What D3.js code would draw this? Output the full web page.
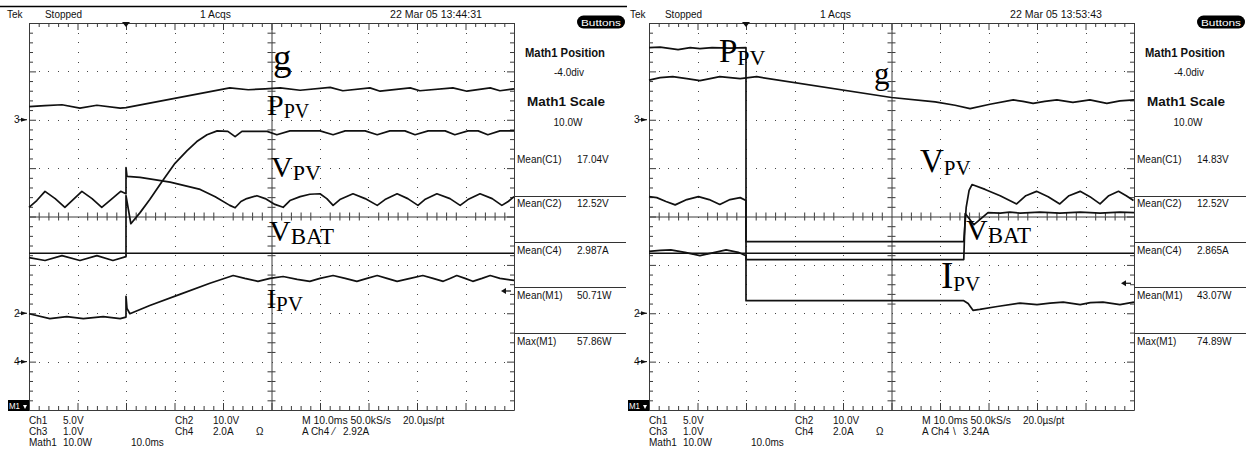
<!DOCTYPE html>
<html><head><meta charset="utf-8">
<script src="https://cdn.jsdelivr.net/npm/d3@7"></script>
<style>body{margin:0;background:#fff}svg{display:block}</style>
</head><body>
<svg id="c" width="1252" height="450"></svg>
<script>
// ---------------- DATA ----------------
// time in ms from left edge of screen (10 ms/div), amplitude in screen divisions (0 = centre)
const timeMajor = [0,10,20,30,40,50,60,70,80,90,100];
const divMajor = [-4,-3,-2,-1,0,1,2,3,4];
const channelMarkers = ["3","2","4"];
const channelMarkerDiv = [2,-2,-3];
const statusTexts = ["Tek","Stopped","1 Acqs"];
const dates = ["22 Mar 05 13:44:31","22 Mar 05 13:53:43"];
const mathInfo = ["Math1 Position","-4.0div","Math1 Scale","10.0W"];
const readoutNames = ["Mean(C1)","Mean(C2)","Mean(C4)","Mean(M1)","Max(M1)"];
const readoutsLeft = ["17.04V","12.52V","2.987A","50.71W","57.86W"];
const readoutsRight = ["14.83V","12.52V","2.865A","43.07W","74.89W"];
const chRow1 = ["Ch1","5.0V","Ch2","10.0V"];
const chRow2 = ["Ch3","1.0V","Ch4","2.0A","Ω"];
const chRow3 = ["Math1","10.0W","10.0ms"];
const acqRow = ["M 10.0ms 50.0kS/s","20.0µs/pt"];
const trigSource = "A  Ch4";
const trigLevels = ["2.92A","3.24A"];      // Ch4, 2.0 A/div
const trigSlopes = ["⁄","\\"];
const labelMain = ["g","P","V","V","I"];
const labelSub = ["","PV","PV","BAT","PV"];

// left capture
const leftG = [[0,2.27],[3.3,2.29],[6.8,2.31],[10.5,2.24],[14.0,2.30],[18.8,2.24],[20.0,2.25],[41.4,2.66],[45.2,2.62],[48.7,2.64],[51.8,2.66],[55.9,2.61],[62.1,2.67],[64.7,2.60],[70.3,2.66],[72.4,2.59],[78.6,2.66],[80.6,2.60],[87.4,2.66],[90.3,2.59],[95.1,2.66],[97.1,2.60],[100,2.64]];
const leftP = [[0,-0.85],[3.3,-0.91],[6.8,-0.81],[10.5,-0.91],[14.0,-0.81],[17.3,-0.91],[20.0,-0.83],[20.0,0.43],[21.0,-0.15],[22.9,0.08],[24.9,0.35],[27.4,0.72],[30.1,1.10],[32.6,1.36],[34.6,1.55],[36.7,1.69],[38.8,1.77],[41.0,1.76],[42.5,1.65],[43.9,1.76],[49.1,1.76],[51.1,1.69],[53.8,1.77],[60.0,1.77],[62.7,1.69],[65.2,1.77],[69.3,1.77],[71.8,1.69],[74.4,1.77],[77.5,1.77],[79.6,1.69],[82.3,1.77],[85.8,1.77],[87.8,1.69],[90.5,1.77],[92.6,1.77],[94.6,1.69],[97.1,1.77],[100,1.77]];
const leftV = [[0,0.19],[1.6,0.33],[3.3,0.52],[5.4,0.37],[7.4,0.19],[9.1,0.35],[10.9,0.52],[13.0,0.37],[15.0,0.19],[16.9,0.35],[18.9,0.52],[20.0,0.47],[20.0,1.01],[20.2,0.83],[22.9,0.81],[29.1,0.71],[35.3,0.56],[38.4,0.41],[41.4,0.23],[42.5,0.18],[43.7,0.31],[44.9,0.37],[47.0,0.43],[48.7,0.37],[50.7,0.25],[52.4,0.19],[53.8,0.33],[55.9,0.41],[57.9,0.46],[60.0,0.47],[61.4,0.37],[62.7,0.23],[64.1,0.35],[66.8,0.47],[69.3,0.37],[71.8,0.23],[73.4,0.35],[75.9,0.47],[78.1,0.37],[80.2,0.23],[81.6,0.35],[84.1,0.47],[86.8,0.37],[88.9,0.23],[90.5,0.35],[93.0,0.47],[95.5,0.37],[97.5,0.23],[98.8,0.31],[100,0.41]];
const leftB = [[0,-0.76],[20,-0.76],[100,-0.76]];
const leftI = [[0,-2.01],[4.3,-2.11],[7.8,-2.07],[11.2,-2.11],[15.3,-2.07],[18.8,-2.11],[20.0,-2.08],[20.0,-1.65],[20.2,-1.90],[20.8,-2.01],[24.9,-1.84],[31.1,-1.61],[37.3,-1.38],[42.1,-1.22],[44.5,-1.28],[47.2,-1.34],[49.7,-1.28],[52.4,-1.24],[55.3,-1.30],[57.9,-1.34],[60.0,-1.28],[62.7,-1.22],[65.2,-1.28],[67.6,-1.34],[69.7,-1.28],[71.8,-1.22],[73.8,-1.28],[75.9,-1.34],[78.6,-1.28],[81.2,-1.22],[83.3,-1.28],[85.4,-1.34],[86.8,-1.28],[88.2,-1.22],[89.9,-1.28],[91.5,-1.34],[93.4,-1.28],[95.1,-1.22],[97.1,-1.28],[100,-1.32]];

// right capture
const rightP = [[0,3.49],[2.3,3.50],[6.0,3.45],[8.5,3.49],[10.5,3.47],[13.0,3.49],[16.7,3.48],[20.0,3.49],[20.0,-1.74],[64.9,-1.74],[65.8,-1.80],[66.8,-1.94],[68.2,-1.92],[71.8,-1.86],[76.5,-1.79],[80.0,-1.82],[82.7,-1.79],[85.4,-1.77],[88.9,-1.82],[91.0,-1.78],[93.6,-1.77],[97.1,-1.82],[100,-1.77]];
const rightG = [[0,2.82],[2.3,2.87],[4.9,2.89],[7.8,2.85],[10.5,2.81],[12.6,2.85],[14.6,2.89],[16.7,2.87],[18.8,2.85],[22.2,2.89],[50.0,2.46],[59.0,2.37],[63.1,2.30],[66.2,2.23],[70.3,2.32],[75.1,2.41],[77.1,2.38],[79.2,2.34],[81.6,2.38],[84.1,2.41],[87.4,2.36],[90.9,2.41],[94.4,2.34],[97.1,2.39],[100,2.41]];
const rightV = [[0,0.41],[1.6,0.39],[3.5,0.31],[5.4,0.24],[7.8,0.35],[10.2,0.41],[12.4,0.35],[14.6,0.25],[16.7,0.35],[18.8,0.39],[20.0,0.33],[20.0,-0.52],[64.9,-0.52],[65.4,0.19],[66.0,0.54],[66.6,0.66],[69.3,0.56],[72.4,0.43],[75.8,0.26],[77.7,0.43],[79.9,0.52],[82.3,0.41],[84.7,0.26],[86.6,0.43],[88.9,0.52],[90.9,0.41],[93.0,0.26],[94.8,0.43],[96.8,0.52],[98.4,0.43],[99.9,0.33]];
const rightX = [[0,-0.72],[2.3,-0.70],[4.5,-0.69],[7.4,-0.74],[10.5,-0.81],[13.6,-0.74],[15.9,-0.69],[18.4,-0.74],[20.0,-0.81],[20.0,-0.89],[64.9,-0.89],[65.2,0.06],[67.0,-0.17],[69.9,0.08],[72.4,0.07],[74.4,0.09],[76.5,0.07],[80.6,0.09],[84.7,0.07],[88.9,0.09],[93.0,0.07],[97.1,0.09],[100,0.08]];
const rightB = [[0,-0.76],[20,-0.76],[100,-0.76]];

// ---------------- LAYOUT ----------------
const svg = d3.select("#c");
const ink = "#111", gridInk = "#3a3a3a";
const uiFont = "'Liberation Sans', Arial, sans-serif";
const serif = "'Liberation Serif', 'Times New Roman', serif";

const panels = [
  {off:0, date:dates[0], readouts:readoutsLeft, trig:trigLevels[0], slope:trigSlopes[0], traces:[leftG,leftP,leftV,leftB,leftI], topLine:true, tekX:7,
   labels:[{x:273,y:70,m:37,s:0},{x:267,y:115,m:30,s:20},{x:271,y:177,m:30,s:22},{x:269,y:241,m:30,s:23},{x:267,y:308,m:27,s:21}]},
  {off:620, date:dates[1], readouts:readoutsRight, trig:trigLevels[1], slope:trigSlopes[1], traces:[rightG,rightP,rightV,rightX,rightB], topLine:false, tekX:630,
   labels:[{x:874,y:84,m:31,s:0},{x:719,y:62,m:33,s:22},{x:920,y:172,m:33,s:21},{x:966,y:240,m:30,s:23},{x:941,y:288,m:37,s:21}]}
];

function txt(g, x, y, s, opt={}) {
  const t = g.append("text").attr("x",x).attr("y",y).text(s)
    .attr("font-family", opt.family||uiFont).attr("font-size", opt.size||10)
    .attr("fill", opt.fill||ink);
  if (opt.bold) t.attr("font-weight","bold");
  if (opt.anchor) t.attr("text-anchor",opt.anchor);
  if (opt.len) t.attr("textLength",opt.len).attr("lengthAdjust","spacingAndGlyphs");
  return t;
}

panels.forEach((p, pi) => {
  const o = p.off;
  const g = svg.append("g");
  const x = d3.scaleLinear().domain([0,100]).range([29+o, 514+o]);
  const y = d3.scaleLinear().domain([-4,4]).range([410, 23]);
  const minorT = d3.range(0, 100.001, 2);
  const minorV = d3.range(-4, 4.001, 0.2).map(v => +v.toFixed(1));

  // dotted graticule
  const dots = [];
  timeMajor.filter(t => t>0 && t<100 && t!==50).forEach(t => minorV.forEach(v => dots.push([t,v])));
  divMajor.filter(v => v>-4 && v<4 && v!==0).forEach(v => minorT.forEach(t => dots.push([t,v])));
  g.append("g").selectAll("rect").data(dots).join("rect")
    .attr("x", d => Math.round(x(d[0]))).attr("y", d => Math.round(y(d[1])))
    .attr("width",1).attr("height",1).attr("fill","#444");

  // frame + centre cross with ticks via d3 axes
  const styleAx = sel => { sel.select(".domain").attr("stroke",gridInk); sel.selectAll("line").attr("stroke",gridInk); };
  const addAx = (gen, scale, vals, size, tr, keepDomain) => {
    const a = g.append("g").attr("transform",tr)
      .call(gen(scale).tickValues(vals).tickSize(size).tickSizeOuter(0).tickFormat(""));
    styleAx(a); if (!keepDomain) a.select(".domain").remove();
  };
  const minorTonly = minorT.filter(t => t%10!==0), minorVonly = minorV.filter(v => Math.abs(v-Math.round(v))>1e-6);
  // top edge
  addAx(d3.axisBottom, x, minorTonly, 4, `translate(0,${y(4)})`, true);
  addAx(d3.axisBottom, x, timeMajor, 7, `translate(0,${y(4)})`, false);
  // bottom edge
  addAx(d3.axisTop, x, minorTonly, 4, `translate(0,${y(-4)})`, true);
  addAx(d3.axisTop, x, timeMajor, 7, `translate(0,${y(-4)})`, false);
  // left edge
  addAx(d3.axisRight, y, minorVonly, 4, `translate(${x(0)},0)`, true);
  addAx(d3.axisRight, y, divMajor, 7, `translate(${x(0)},0)`, false);
  // right edge
  addAx(d3.axisLeft, y, minorVonly, 4, `translate(${x(100)},0)`, true);
  addAx(d3.axisLeft, y, divMajor, 7, `translate(${x(100)},0)`, false);
  // centre horizontal
  addAx(d3.axisBottom, x, minorTonly, 4, `translate(0,${y(0)})`, true);
  addAx(d3.axisTop, x, minorTonly, 4, `translate(0,${y(0)})`, false);
  // centre vertical
  addAx(d3.axisRight, y, minorVonly, 4, `translate(${x(50)},0)`, true);
  addAx(d3.axisLeft, y, minorVonly, 4, `translate(${x(50)},0)`, false);

  // traces
  const line = d3.line().x(d => x(d[0])).y(d => y(d[1]));
  g.append("g").selectAll("path").data(p.traces).join("path")
    .attr("d", line).attr("fill","none").attr("stroke",ink)
    .attr("stroke-width",1.7).attr("stroke-linejoin","round");

  // trigger position marker
  const tx = x(20);
  g.append("path").attr("d",`M${tx-4},22 L${tx+4},22 L${tx},27 Z`).attr("fill",ink);

  // channel markers on the left
  channelMarkers.forEach((m,i) => {
    const yy = y(channelMarkerDiv[i]);
    txt(g, 14+o, yy+3.5, m, {size:10});
    g.append("path").attr("d",`M${21+o},${yy-2} L${27+o},${yy} L${21+o},${yy+2} Z`).attr("fill",ink);
    g.append("line").attr("x1",18+o).attr("x2",27+o).attr("y1",yy).attr("y2",yy).attr("stroke",ink);
  });
  // M1 marker
  g.append("rect").attr("x",8+o).attr("y",y(-4)-10).attr("width",21).attr("height",11).attr("fill","#000");
  txt(g, 9+o, y(-4)-1, "M1", {size:9, fill:"#fff", len:11});
  g.append("path").attr("d",`M${23+o},${y(-4)-5} L${27+o},${y(-4)-5} L${25+o},${y(-4)-1} Z`).attr("fill","#fff");

  // trigger level arrow (Ch4 marker + level / 2 A/div)
  const lvl = parseFloat(p.trig)/2 + channelMarkerDiv[2];
  const ay = y(lvl);
  g.append("path").attr("d",`M${x(100)-13},${ay} L${x(100)-8},${ay-3} L${x(100)-8},${ay+3} Z`).attr("fill",ink);
  g.append("line").attr("x1",x(100)-9).attr("x2",x(100)-3).attr("y1",ay).attr("y2",ay).attr("stroke",ink).attr("stroke-width",1.2);

  // header
  if (p.topLine) g.append("line").attr("x1",0).attr("x2",627).attr("y1",6.5).attr("y2",6.5).attr("stroke","#000").attr("stroke-width",1.5);
  txt(g, p.tekX, 17.5, statusTexts[0], {size:10});
  txt(g, 45+o, 18, statusTexts[1], {size:10, len:37});
  txt(g, 200+o, 18, statusTexts[2], {size:10, len:31});
  txt(g, 390+o, 18, p.date, {size:10, len:92});
  // Buttons
  g.append("rect").attr("x",577+o).attr("y",15.5).attr("width",48).attr("height",13).attr("rx",6.5).attr("fill","#000");
  txt(g, 601+o, 25.5, "Buttons", {size:9.5, fill:"#fff", anchor:"middle", len:40});

  // side info
  txt(g, 525+o, 56.5, mathInfo[0], {size:12, bold:true, len:80});
  txt(g, 569+o, 76, mathInfo[1], {size:10, anchor:"middle"});
  txt(g, 527+o, 106, mathInfo[2], {size:12, bold:true, len:78});
  txt(g, 568+o, 126, mathInfo[3], {size:10, anchor:"middle"});
  const sepY = [196,242,287,333];
  sepY.forEach(sy => g.append("line").attr("x1",514+o).attr("x2",626+o).attr("y1",sy+0.5).attr("y2",sy+0.5).attr("stroke","#333"));
  const rdY = [163,207,254,299,345];
  readoutNames.forEach((n,i) => {
    txt(g, 517+o, rdY[i], n, {size:10});
    txt(g, 577+o, rdY[i], p.readouts[i], {size:10});
  });

  // bottom settings
  const by = [424,435,446];
  txt(g, 29+o, by[0], chRow1[0]); txt(g, 63+o, by[0], chRow1[1]); txt(g, 175+o, by[0], chRow1[2]); txt(g, 213+o, by[0], chRow1[3]);
  txt(g, 29+o, by[1], chRow2[0]); txt(g, 63+o, by[1], chRow2[1]); txt(g, 175+o, by[1], chRow2[2]); txt(g, 213+o, by[1], chRow2[3]); txt(g, 256+o, by[1], chRow2[4]);
  txt(g, 29+o, by[2], chRow3[0]); txt(g, 63+o, by[2], chRow3[1]); txt(g, 131+o, by[2], chRow3[2]);
  txt(g, 302+o, by[0], acqRow[0], {len:89}); txt(g, 403+o, by[0], acqRow[1]);
  txt(g, 302+o, by[1], trigSource); txt(g, 333+o, by[1], p.slope); txt(g, 343+o, by[1], p.trig);

  // serif trace labels
  p.labels.forEach((L,i) => {
    const t = g.append("text").attr("x",L.x).attr("y",L.y).attr("font-family",serif).attr("fill","#000");
    t.append("tspan").attr("font-size",L.m).text(labelMain[i]);
    if (labelSub[i]) t.append("tspan").attr("font-size",L.s).attr("dy",3).text(labelSub[i]);
  });
});
</script>
</body></html>
